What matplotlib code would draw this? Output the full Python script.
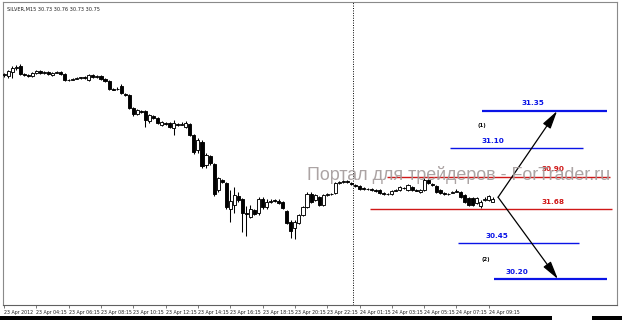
import matplotlib
matplotlib.use("Agg")
import matplotlib.pyplot as plt
from matplotlib.patches import Rectangle

# ---------------- data ----------------
title_text = "SILVER,M15 30.73 30.76 30.73 30.75"

opens = [31.597, 31.590, 31.617, 31.645, 31.658, 31.603, 31.597, 31.590, 31.610, 31.624,
         31.610, 31.617, 31.597, 31.610, 31.617, 31.603, 31.562, 31.562, 31.569, 31.576,
         31.583, 31.562, 31.597, 31.583, 31.590, 31.569, 31.556, 31.501, 31.501, 31.521,
         31.467, 31.460, 31.371, 31.330, 31.350, 31.350, 31.282, 31.316, 31.302, 31.254,
         31.268, 31.268, 31.234, 31.261, 31.254, 31.241, 31.261, 31.186, 31.083, 31.138,
         30.981, 31.042, 30.987, 30.809, 30.878, 30.857, 30.679, 30.707, 30.768, 30.748,
         30.652, 30.625, 30.673, 30.652, 30.748, 30.693, 30.727, 30.741, 30.734, 30.727,
         30.666, 30.590, 30.549, 30.583, 30.638, 30.693, 30.782, 30.741, 30.762, 30.707,
         30.775, 30.782, 30.789, 30.857, 30.864, 30.871, 30.857, 30.844, 30.837, 30.823,
         30.816, 30.816, 30.809, 30.809, 30.789, 30.782, 30.782, 30.803, 30.809, 30.823,
         30.809, 30.830, 30.809, 30.796, 30.809, 30.878, 30.851, 30.837, 30.809, 30.789,
         30.782, 30.789, 30.796, 30.796, 30.775, 30.755, 30.755, 30.721, 30.700, 30.741,
         30.741, 30.730]
highs = [31.610, 31.631, 31.658, 31.665, 31.672, 31.610, 31.603, 31.617, 31.631, 31.631,
         31.624, 31.624, 31.617, 31.624, 31.624, 31.610, 31.569, 31.576, 31.583, 31.583,
         31.590, 31.603, 31.603, 31.597, 31.597, 31.576, 31.562, 31.508, 31.514, 31.535,
         31.473, 31.467, 31.378, 31.364, 31.357, 31.357, 31.330, 31.323, 31.309, 31.282,
         31.275, 31.275, 31.289, 31.268, 31.275, 31.282, 31.268, 31.193, 31.165, 31.152,
         31.063, 31.049, 30.994, 30.898, 30.885, 30.864, 30.809, 30.830, 30.796, 30.755,
         30.700, 30.707, 30.679, 30.762, 30.762, 30.748, 30.748, 30.748, 30.748, 30.734,
         30.673, 30.604, 30.604, 30.645, 30.700, 30.796, 30.796, 30.782, 30.768, 30.782,
         30.789, 30.789, 30.864, 30.871, 30.878, 30.878, 30.864, 30.851, 30.844, 30.830,
         30.823, 30.823, 30.816, 30.816, 30.796, 30.789, 30.809, 30.816, 30.837, 30.830,
         30.851, 30.837, 30.816, 30.816, 30.892, 30.885, 30.857, 30.844, 30.816, 30.796,
         30.789, 30.803, 30.816, 30.803, 30.782, 30.762, 30.762, 30.762, 30.741, 30.762,
         30.775, 30.760]
lows = [31.583, 31.576, 31.576, 31.631, 31.597, 31.590, 31.583, 31.583, 31.603, 31.603,
        31.603, 31.597, 31.590, 31.610, 31.597, 31.556, 31.556, 31.562, 31.569, 31.569,
        31.569, 31.556, 31.576, 31.576, 31.562, 31.549, 31.494, 31.494, 31.494, 31.467,
        31.453, 31.364, 31.316, 31.323, 31.337, 31.241, 31.268, 31.295, 31.261, 31.248,
        31.254, 31.234, 31.186, 31.248, 31.254, 31.234, 31.179, 31.056, 31.063, 30.960,
        30.960, 30.981, 30.768, 30.796, 30.857, 30.679, 30.590, 30.652, 30.727, 30.522,
        30.495, 30.618, 30.638, 30.638, 30.679, 30.679, 30.721, 30.727, 30.714, 30.679,
        30.577, 30.481, 30.474, 30.577, 30.632, 30.686, 30.721, 30.734, 30.700, 30.700,
        30.768, 30.775, 30.782, 30.851, 30.857, 30.857, 30.844, 30.830, 30.809, 30.809,
        30.809, 30.803, 30.796, 30.782, 30.775, 30.775, 30.775, 30.803, 30.803, 30.816,
        30.803, 30.803, 30.803, 30.789, 30.803, 30.851, 30.837, 30.789, 30.782, 30.775,
        30.775, 30.789, 30.796, 30.755, 30.721, 30.700, 30.700, 30.714, 30.686, 30.734,
        30.734, 30.730]
closes = [31.603, 31.624, 31.645, 31.651, 31.603, 31.597, 31.590, 31.610, 31.624, 31.610,
          31.617, 31.603, 31.610, 31.617, 31.603, 31.562, 31.559, 31.569, 31.576, 31.580,
          31.576, 31.597, 31.583, 31.590, 31.569, 31.556, 31.501, 31.497, 31.504, 31.473,
          31.460, 31.371, 31.330, 31.357, 31.343, 31.289, 31.323, 31.302, 31.268, 31.275,
          31.261, 31.241, 31.268, 31.254, 31.261, 31.268, 31.186, 31.070, 31.152, 30.974,
          31.049, 30.994, 30.782, 30.892, 30.864, 30.693, 30.734, 30.775, 30.741, 30.652,
          30.645, 30.679, 30.645, 30.748, 30.693, 30.727, 30.734, 30.734, 30.721, 30.686,
          30.583, 30.529, 30.590, 30.638, 30.693, 30.782, 30.727, 30.775, 30.707, 30.775,
          30.782, 30.779, 30.857, 30.864, 30.871, 30.864, 30.851, 30.837, 30.816, 30.816,
          30.813, 30.809, 30.803, 30.789, 30.782, 30.779, 30.803, 30.809, 30.830, 30.820,
          30.844, 30.809, 30.806, 30.809, 30.878, 30.857, 30.844, 30.796, 30.789, 30.782,
          30.779, 30.796, 30.803, 30.762, 30.727, 30.707, 30.707, 30.755, 30.727, 30.748,
          30.768, 30.750]

tick_labels = ["23 Apr 2012", "23 Apr 04:15", "23 Apr 06:15", "23 Apr 08:15", "23 Apr 10:15",
               "23 Apr 12:15", "23 Apr 14:15", "23 Apr 16:15", "23 Apr 18:15", "23 Apr 20:15",
               "23 Apr 22:15", "24 Apr 01:15", "24 Apr 03:15", "24 Apr 05:15", "24 Apr 07:15",
               "24 Apr 09:15"]
tick_bars = [0, 8, 16, 24, 32, 40, 48, 56, 64, 72, 80, 88, 96, 104, 112, 120]

# horizontal levels
level_prices = [31.35, 31.10, 30.90, 30.68, 30.45, 30.20]
level_starts = [118.3, 110.4, 94.8, 90.6, 112.4, 121.3]
level_ends = [149.3, 143.3, 150.0, 150.5, 142.3, 149.3]
level_colors = ["#0a14e6", "#0a14e6", "#d01818", "#d01818", "#0a14e6", "#0a14e6"]
level_widths = [1.6, 1.0, 1.0, 1.0, 1.0, 1.6]
level_labels = ["31.35", "31.10", "30.90", "31.68", "30.45", "30.20"]
label_bars = [130.9, 121.0, 135.9, 135.9, 122.0, 127.0]
label_prices = [31.405, 31.145, 30.953, 30.727, 30.495, 30.248]

arrow_start = (122.3, 30.76)
arrow_up_end = (136.9, 31.35)
arrow_down_end = (137.1, 30.20)
scenario_text = ["(1)", "(2)"]
scenario_bars = [118.3, 119.3]
scenario_prices = [31.248, 30.337]

session_break_bar = 86.4
watermark = "Портал для трейдеров - ForTrader.ru"

# ---------------- figure ----------------
W, H = 622, 320
fig = plt.figure(figsize=(W / 100, H / 100), dpi=100)
fig.patch.set_facecolor("white")
ax = fig.add_axes([3 / W, 1 - 305 / H, 614 / W, 303 / H])
ax.set_facecolor("white")

px_per_bar = 4.04
x0 = -0.25
ax.set_xlim(x0, x0 + 614 / px_per_bar)
ax.set_ylim(32.11 - 0.006845 * 305, 32.11 - 0.006845 * 2)

# candles
idx = list(range(len(opens)))
ax.vlines(idx, lows, highs, color="black", linewidth=0.75, zorder=3)
bw = 0.76
for i, o, c in zip(idx, opens, closes):
    bottom = min(o, c)
    height = max(abs(c - o), 0.0025)
    face = "white" if c >= o else "black"
    ax.add_patch(Rectangle((i - bw / 2, bottom), bw, height, facecolor=face,
                           edgecolor="black", linewidth=0.65, zorder=4))

# session separator
ax.axvline(session_break_bar, color="black", linestyle=(0, (1, 1.5)), linewidth=0.7, zorder=2)

# watermark
fig.text(307 / W, 1 - 175 / H, watermark, fontsize=12.9, color="#a39a9a",
         family="Liberation Sans", ha="left", va="center", zorder=1, alpha=0.9)

# levels
for p, s, e, col, lw in zip(level_prices, level_starts, level_ends, level_colors, level_widths):
    ax.hlines(p, s, e, color=col, linewidth=lw, zorder=5)
for t, b, p, col in zip(level_labels, label_bars, label_prices, level_colors):
    ax.text(b, p, t, color=col, fontsize=5.2, fontweight="bold", ha="center", va="center",
            family="DejaVu Sans", zorder=6)
for t, b, p in zip(scenario_text, scenario_bars, scenario_prices):
    ax.text(b, p, t, color="black", fontsize=3.8, fontweight="bold", ha="center", va="center",
            zorder=6)

# arrows
for end in (arrow_up_end, arrow_down_end):
    ax.annotate("", xy=end, xytext=arrow_start,
                arrowprops=dict(arrowstyle="-|>,head_length=1.1,head_width=0.28", color="black",
                                lw=0.9, shrinkA=0, shrinkB=0, mutation_scale=10), zorder=7)

# header
ax.text(0.006, 0.985, title_text, transform=ax.transAxes, fontsize=3.6, color="#202020",
        ha="left", va="top", family="DejaVu Sans")

# axes styling
for s in ax.spines.values():
    s.set_color("#8a8a8a")
    s.set_linewidth(0.8)
ax.spines["bottom"].set_color("#606060")
ax.set_yticks([])
ax.set_xticks(tick_bars)
ax.set_xticklabels(tick_labels, fontsize=3.4, family="DejaVu Sans", ha="left", color="#202020")
ax.tick_params(axis="x", direction="out", length=2.5, width=0.5, pad=0.8, color="#404040")

# bottom status strip
fig.patches.append(Rectangle((0, 0), 552 / W, 4 / H, transform=fig.transFigure,
                             facecolor="black", edgecolor="none"))
fig.patches.append(Rectangle((592 / W, 0), 30 / W, 4 / H, transform=fig.transFigure,
                             facecolor="black", edgecolor="none"))

fig.savefig("out.png", dpi=100, facecolor="white")
